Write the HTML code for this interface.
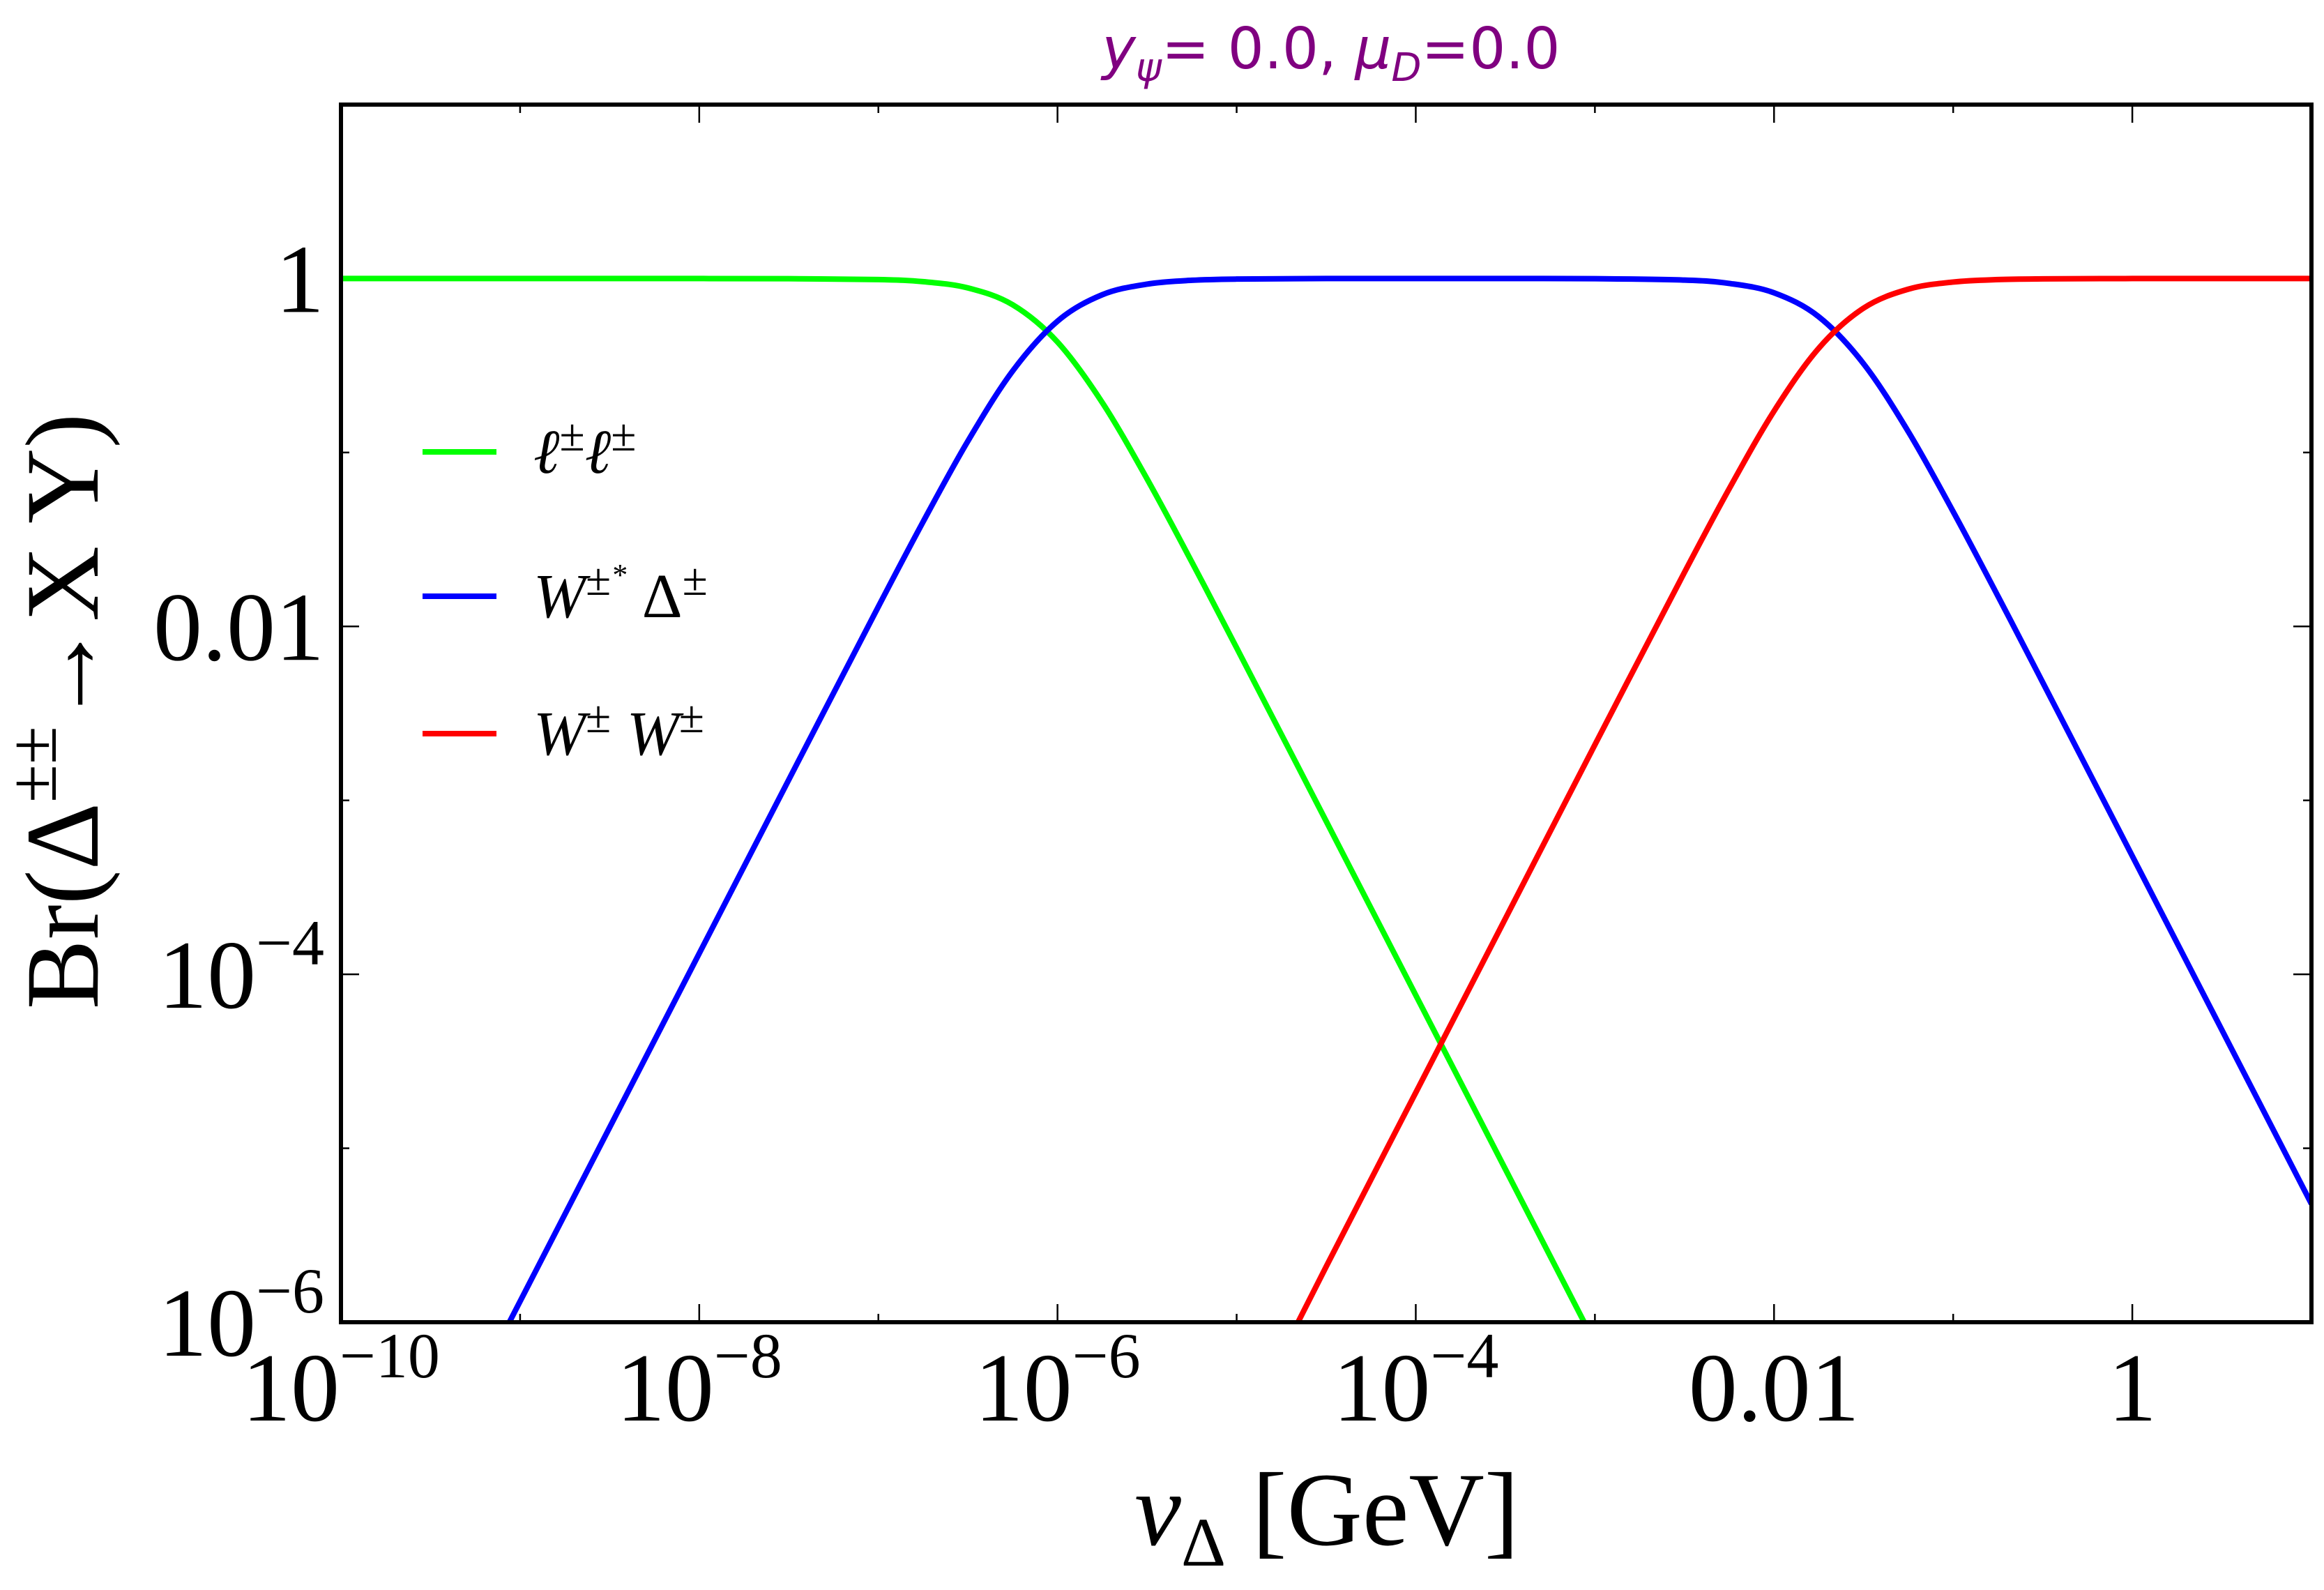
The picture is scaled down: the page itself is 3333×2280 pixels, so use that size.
<!DOCTYPE html>
<html><head><meta charset="utf-8"><style>
html,body{margin:0;padding:0;background:#fff;overflow:hidden;width:3333px;height:2280px}
svg{display:block}
</style></head><body>
<svg id="chart" width="3333" height="2280" viewBox="0 0 3333 2280" xmlns="http://www.w3.org/2000/svg">
<defs><clipPath id="plotclip"><rect x="489" y="150" width="2826" height="1746"/></clipPath></defs>
<text x="1909" y="98" text-anchor="middle" font-family="DejaVu Sans, Liberation Sans, sans-serif" font-size="82" fill="#800080"><tspan font-style="italic">y</tspan><tspan font-style="italic" font-size="56" dy="18">ψ</tspan><tspan dy="-18">= 0.0, </tspan><tspan font-style="italic">μ</tspan><tspan font-style="italic" font-size="56" dy="18">D</tspan><tspan dy="-18">=0.0</tspan></text>
<g id="ticks"></g>
<g id="series" clip-path="url(#plotclip)"></g>
<rect x="489" y="150" width="2826" height="1746" fill="none" stroke="#000" stroke-width="6"/>
<g id="labels" font-family="Liberation Serif, DejaVu Serif, serif" fill="#000"></g>
<text x="1903" y="2215" text-anchor="middle" font-family="Liberation Serif, DejaVu Serif, serif" font-size="150"><tspan font-style="italic">v</tspan><tspan font-size="100" dy="30">Δ</tspan><tspan dy="-30"> [GeV]</tspan></text>
<text transform="translate(140,1020) rotate(-90)" text-anchor="middle" font-family="Liberation Serif, DejaVu Serif, serif" font-size="150">Br(Δ<tspan font-size="100" dy="-60">±±</tspan><tspan dy="60">→X Y)</tspan></text>
<g id="legend" font-family="Liberation Serif, DejaVu Serif, serif" font-style="italic" font-size="90"></g>
</svg>
<script>
// data (log10 units)
const xExp = [-10,-9.5,-9,-8.5,-8,-7.5,-7,-6.75,-6.5,-6.25,-6,-5.75,-5.5,-5.25,-5,-4.5,-4,-3.5,-3,-2.5,-2.25,-2,-1.75,-1.5,-1.25,-1,-0.75,-0.5,0,0.5,1];
const llExp = [0,0,0,0,0,-0.001,-0.006,-0.018,-0.054,-0.151,-0.365,-0.713,-1.152,-1.630,-2.123,-3.12,-4.12,-5.12,-6.12,-7.13,-7.6,-8.1,-8.6,-9.1,-9.6,-10.1,-10.6,-11.1,-12.1,-13.1,-14.1];
const wdExp = [-7.88,-6.88,-5.88,-4.88,-3.88,-2.881,-1.886,-1.398,-0.934,-0.531,-0.245,-0.093,-0.032,-0.010,-0.003,0,0,0,-0.001,-0.009,-0.028,-0.082,-0.220,-0.490,-0.881,-1.340,-1.826,-2.322,-3.32,-4.32,-5.32];
const wwExp = [-16.7,-15.7,-14.7,-13.7,-12.7,-11.7,-10.7,-10.2,-9.7,-9.2,-8.7,-8.2,-7.7,-7.2,-6.7,-5.68,-4.68,-3.68,-2.68,-1.689,-1.208,-0.762,-0.400,-0.170,-0.061,-0.020,-0.006,-0.002,0,0,0];
const xTickExp = [-10,-8,-6,-4,-2,0];
const xTickLabels = ["10|−10","10|−8","10|−6","10|−4","0.01","1"];
const yTickExp = [-6,-4,-2,0];
const yTickLabels = ["10|−6","10|−4","0.01","1"];
const legendLabels = ["ℓ±ℓ±","W±* Δ±","W± W±"];

const X0=489,X1=3315,Y0=1896,Y1=150;
const xMin=-10,xMax=1,yMin=-6,yMax=1;
const sx=v=>X0+(v-xMin)/(xMax-xMin)*(X1-X0);
const sy=v=>Y0-(v-yMin)/(yMax-yMin)*(Y0-Y1);
const NS='http://www.w3.org/2000/svg';
function mk(tag,attrs,parent){const e=document.createElementNS(NS,tag);for(const k in attrs)e.setAttribute(k,attrs[k]);parent.appendChild(e);return e;}

const ticks=document.getElementById('ticks');
for(let d=xMin;d<=xMax;d++){
  const len=(d%2===0)?26:12;const x=sx(d);
  const t1=mk('line',{x1:x,x2:x,y1:Y0,y2:Y0-len,stroke:'#000','stroke-width':2.5},ticks);
  
  
  const t2=mk('line',{x1:x,x2:x,y1:Y1,y2:Y1+len,stroke:'#000','stroke-width':2.5},ticks);
  
  
}
for(let d=yMin;d<=yMax;d++){
  const len=(d%2===0)?26:12;const y=sy(d);
  const t1=mk('line',{x1:X0,x2:X0+len,y1:y,y2:y,stroke:'#000','stroke-width':2.5},ticks);
  
  
  const t2=mk('line',{x1:X1,x2:X1-len,y1:y,y2:y,stroke:'#000','stroke-width':2.5},ticks);
  
  
}
function label(txt,x,y,anchor,parent){
  const t=mk('text',{x:x,y:y,'text-anchor':anchor,'font-size':140},parent);
  const p=txt.split('|');
  const a=document.createElementNS(NS,'tspan');a.textContent=p[0];t.appendChild(a);
  if(p[1]){const b=document.createElementNS(NS,'tspan');b.setAttribute('font-size','92');b.setAttribute('dy','-62');b.textContent=p[1];t.appendChild(b);}
  return t;
}
const labels=document.getElementById('labels');
xTickExp.forEach((v,i)=>{
  const t=label(xTickLabels[i],sx(v),2037,'middle',labels);
  
  
});
yTickExp.forEach((v,i)=>{
  const t=label(yTickLabels[i],465,sy(v)+48,'end',labels);
  
  
});

function pathD(ys){
  const pts=xExp.map((v,i)=>[sx(v),sy(ys[i])]);
  let d='M'+pts[0][0]+','+pts[0][1];
  for(let i=0;i<pts.length-1;i++){
    const p0=pts[i-1]||pts[i],p1=pts[i],p2=pts[i+1],p3=pts[i+2]||p2;
    const c1=[p1[0]+(p2[0]-p0[0])/6,p1[1]+(p2[1]-p0[1])/6];
    const c2=[p2[0]-(p3[0]-p1[0])/6,p2[1]-(p3[1]-p1[1])/6];
    d+=' C'+c1[0]+','+c1[1]+' '+c2[0]+','+c2[1]+' '+p2[0]+','+p2[1];
  }
  return d;
}
const series=document.getElementById('series');
const colors=['#00ff00','#0000ff','#ff0000'];
const names=['line-dilepton','line-w-delta','line-ww'];
[llExp,wdExp,wwExp].forEach((ys,i)=>{
  const p=mk('path',{d:pathD(ys),fill:'none',stroke:colors[i],'stroke-width':8},series);
  
  
});
const legend=document.getElementById('legend');
const ly=[648,855,1052];
legendLabels.forEach((s,i)=>{
  const l=mk('line',{x1:606,x2:712,y1:ly[i],y2:ly[i],stroke:colors[i],'stroke-width':8},legend);
  
  
  const t=mk('text',{x:765,y:ly[i]+30},legend);
  
  
  if(i===0){t.innerHTML='ℓ<tspan font-size="66" dy="-32" font-style="normal">±</tspan><tspan dy="32">ℓ</tspan><tspan font-size="66" dy="-32" font-style="normal">±</tspan>';}
  else if(i===1){t.innerHTML='W<tspan font-size="66" dy="-32" font-style="normal">±</tspan><tspan font-size="44" dy="-14">*</tspan><tspan dy="46" font-style="normal"> Δ</tspan><tspan font-size="66" dy="-32" font-style="normal">±</tspan>';}
  else {t.innerHTML='W<tspan font-size="66" dy="-32" font-style="normal">±</tspan><tspan dy="32"> W</tspan><tspan font-size="66" dy="-32" font-style="normal">±</tspan>';}
});
</script>
</body></html>
